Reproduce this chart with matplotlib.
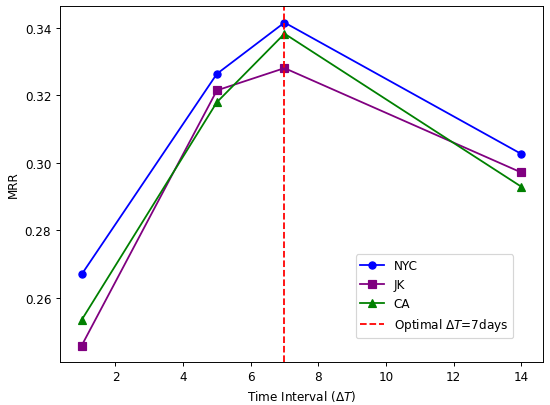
import matplotlib
matplotlib.use("Agg")
import matplotlib.pyplot as plt

# =============================================================================
# Data

intervals = [1, 5, 7, 14]
mrr_nyc = [0.2669, 0.3263, 0.3415, 0.3026]
mrr_jk = [0.2458, 0.3214, 0.3280, 0.2971]
mrr_ca = [0.2534, 0.3179, 0.3382, 0.2929]
optimal_dt = 7

# =============================================================================
# Plot

fig, ax = plt.subplots(figsize=(6.4, 4.72), dpi=86)
fig.subplots_adjust(left=0.1085, right=0.9867, top=0.982, bottom=0.1067)

ax.plot(intervals, mrr_nyc, marker='o', color='blue', label='NYC')
ax.plot(intervals, mrr_jk, marker='s', color='purple', label='JK')
ax.plot(intervals, mrr_ca, marker='^', color='green', label='CA')
ax.axvline(optimal_dt, color='red', linestyle='--', label=r'Optimal $\Delta T$=7days')

ax.set_xlabel(r'Time Interval ($\Delta T$)')
ax.set_ylabel('MRR')
ax.legend(loc='lower right', bbox_to_anchor=(0.95, 0.05))

fig.savefig('out.png', dpi=86)
